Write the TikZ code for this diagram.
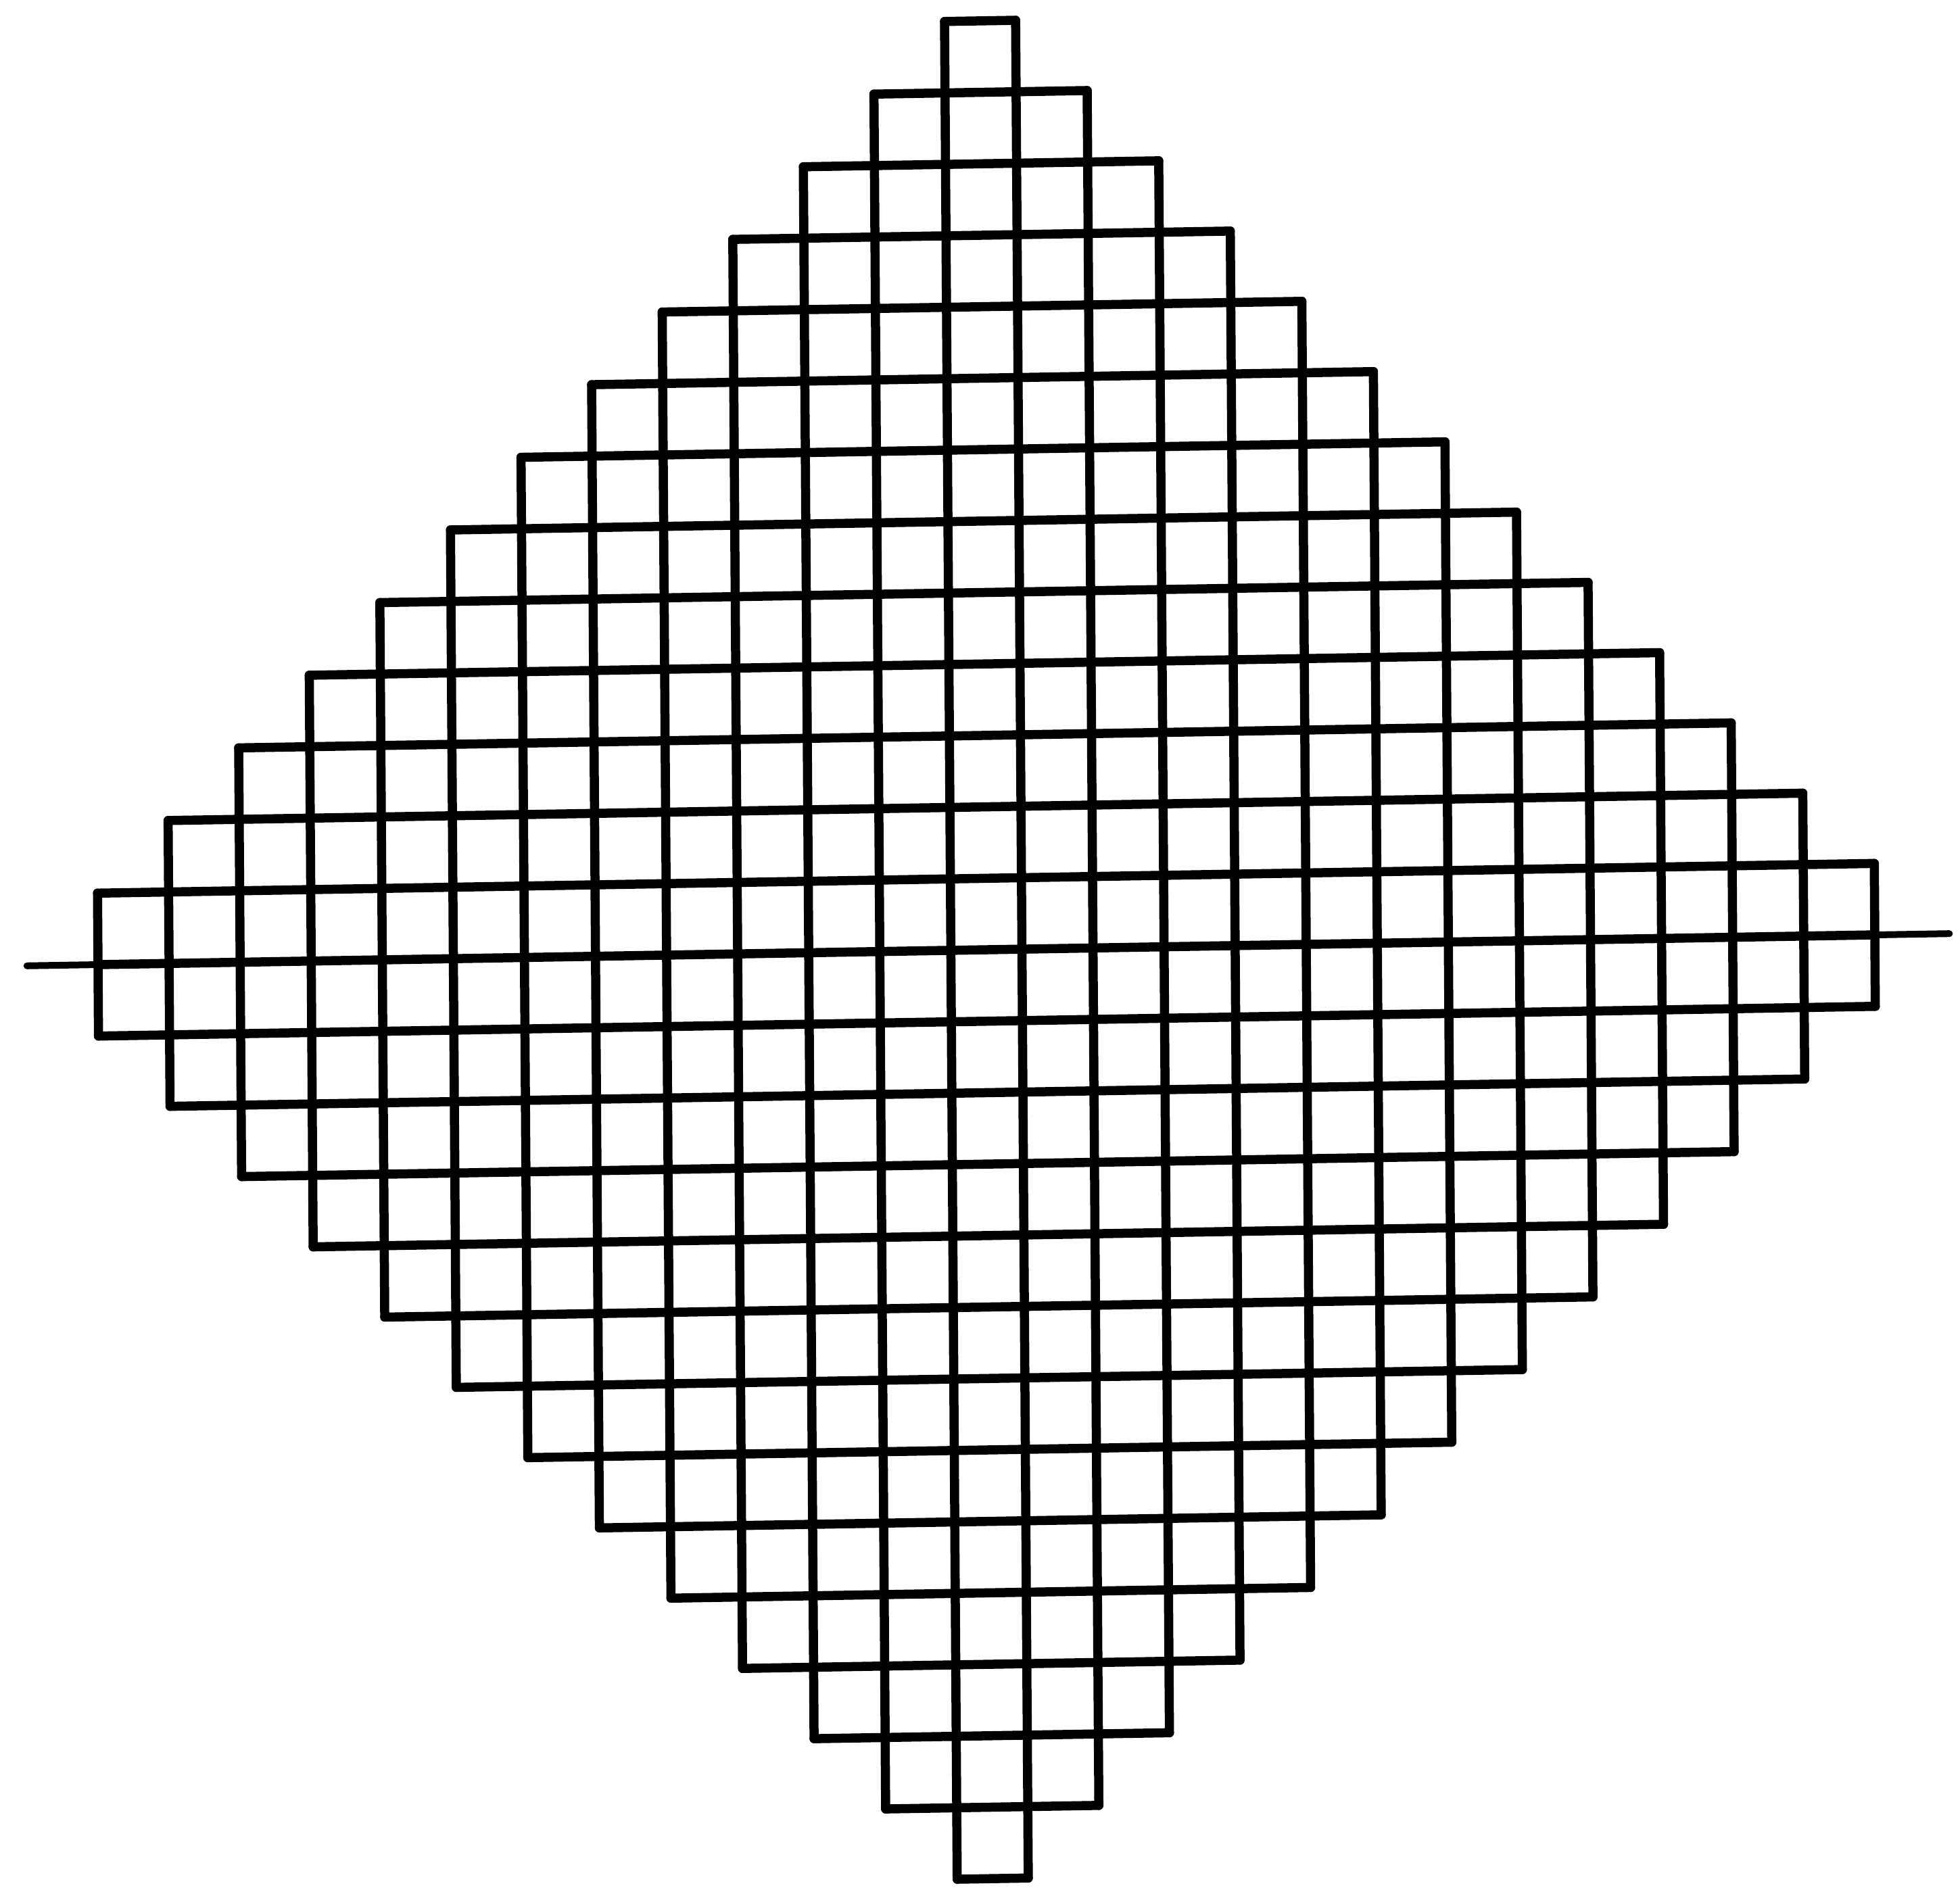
\documentclass[tikz,border=0pt]{standalone}
\begin{document}
\begin{tikzpicture}[
  gridline/.style={line width=0.135cm, line cap=round, line join=round, black},
  axisline/.style={line width=0.1cm, line cap=round, black}]
\useasboundingbox (0,0) rectangle (28.99,-27.95);
\begin{scope}[shift={(1.356cm,-0.529cm)}, x={(1.0512cm,0.0176cm)}, y={(0.0072cm,-1.057cm)}]
  % horizontal grid lines
  \foreach \j in {0,...,26} {
    \pgfmathtruncatemacro{\h}{max(min(\j-1,26-\j),min(\j,25-\j))}
    \pgfmathtruncatemacro{\a}{12-\h}
    \pgfmathtruncatemacro{\b}{13+\h}
    \draw[gridline] (\a,\j) -- (\b,\j);
  }
  % vertical grid lines
  \foreach \k in {0,...,25} {
    \pgfmathtruncatemacro{\d}{min(abs(\k-13),abs(\k-12))}
    \pgfmathtruncatemacro{\e}{26-\d}
    \draw[gridline] (\k,\d) -- (\k,\e);
  }
  % axis extensions
  \coordinate (ML) at (0,13);
  \coordinate (MR) at (25,13);
  \coordinate (L) at (-1.0,13);
  \coordinate (R) at (26.05,13);
  \draw[axisline] (L) -- (ML);
  \draw[axisline] (MR) -- (R);
\end{scope}
\end{tikzpicture}
\end{document}
